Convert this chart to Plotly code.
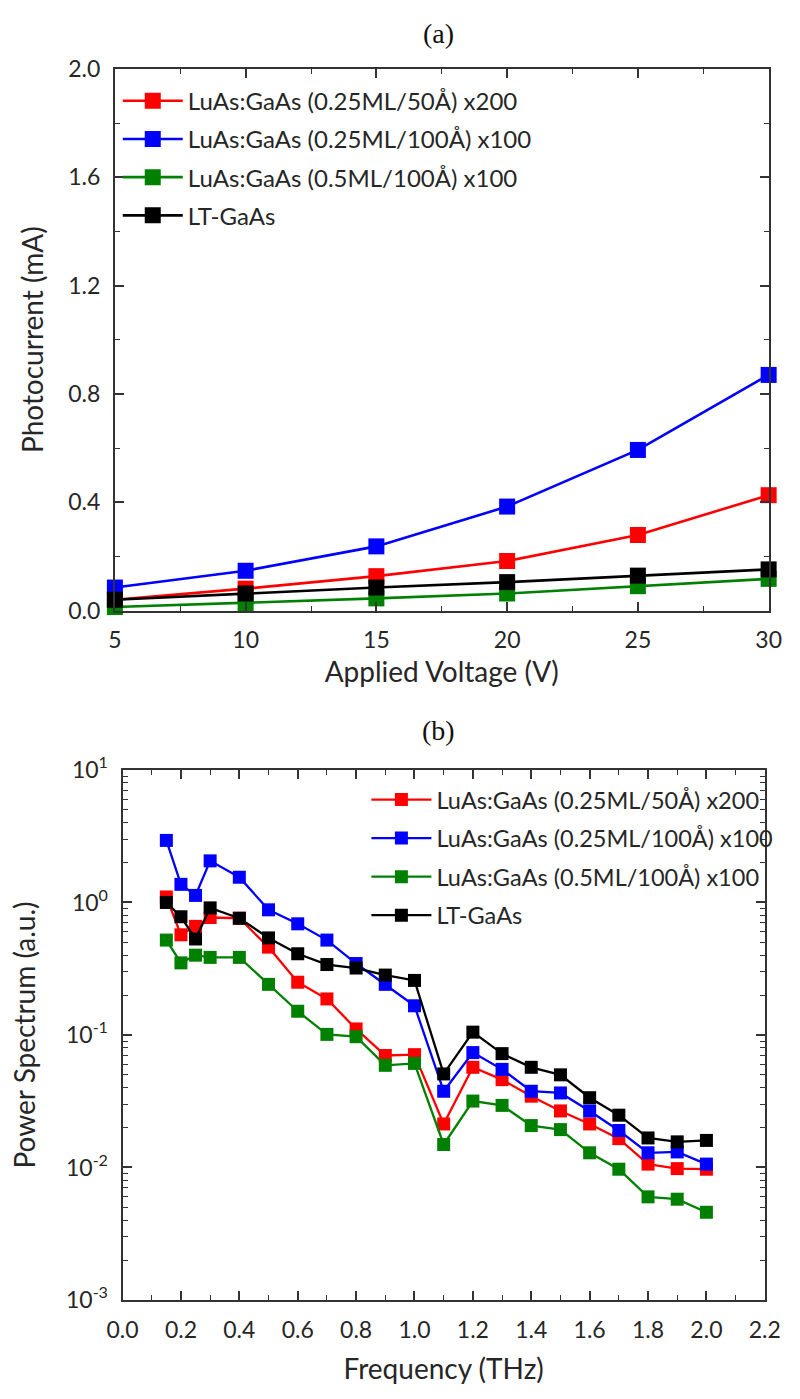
import plotly.graph_objects as go

# ---- Panel (a) data ----
voltage = [5, 10, 15, 20, 25, 30]
pc_red = [0.040, 0.081, 0.127, 0.183, 0.279, 0.426]
pc_blue = [0.085, 0.147, 0.237, 0.384, 0.593, 0.870]
pc_green = [0.013, 0.028, 0.045, 0.063, 0.090, 0.117]
pc_black = [0.040, 0.063, 0.085, 0.105, 0.129, 0.152]

# ---- Panel (b) data ----
freq = [0.15, 0.2, 0.25, 0.3, 0.4, 0.5, 0.6, 0.7, 0.8, 0.9, 1.0,
        1.1, 1.2, 1.3, 1.4, 1.5, 1.6, 1.7, 1.8, 1.9, 2.0]
ps_red = [1.10, 0.57, 0.66, 0.77, 0.76, 0.46, 0.25, 0.187, 0.111, 0.070, 0.071,
          0.0213, 0.057, 0.046, 0.0345, 0.0267, 0.0213, 0.0165, 0.0106, 0.0098, 0.0097]
ps_blue = [2.94, 1.37, 1.13, 2.06, 1.55, 0.88, 0.69, 0.52, 0.346, 0.241, 0.166,
           0.0376, 0.0736, 0.055, 0.0376, 0.0365, 0.0267, 0.019, 0.0129, 0.0131, 0.0106]
ps_green = [0.52, 0.35, 0.40, 0.385, 0.385, 0.241, 0.151, 0.101, 0.097, 0.059, 0.061,
            0.0149, 0.0317, 0.0294, 0.0207, 0.0193, 0.0129, 0.0097, 0.0060, 0.00576, 0.00459]
ps_black = [1.00, 0.78, 0.53, 0.91, 0.76, 0.54, 0.41, 0.34, 0.32, 0.283, 0.258,
            0.0508, 0.105, 0.0723, 0.057, 0.050, 0.0336, 0.0248, 0.0167, 0.0156, 0.0160]

# log-axis tick labels (powers of ten)
log_exponents = [-3, -2, -1, 0, 1]
log_tickvals = [10.0 ** e for e in log_exponents]
log_ticktext = ["10<sup>%d</sup>" % e for e in log_exponents]

names = ["LuAs:GaAs (0.25ML/50Å) x200", "LuAs:GaAs (0.25ML/100Å) x100",
         "LuAs:GaAs (0.5ML/100Å) x100", "LT-GaAs"]
colors = ["#ff0000", "#0000ff", "#008000", "#000000"]

W, H = 800, 1399
FONT = "Lato"
TXT = "#262626"
AX = "#333333"

fig = go.Figure()

for nm, col, ys in zip(names, colors, [pc_red, pc_blue, pc_green, pc_black]):
    fig.add_trace(go.Scatter(
        x=voltage, y=ys, name=nm, mode="lines+markers",
        line=dict(color=col, width=2.6),
        marker=dict(symbol="square", size=16, color=col),
        cliponaxis=False, xaxis="x", yaxis="y",
        legend="legend", legendgroup="a" + nm))

for nm, col, ys in zip(names, colors, [ps_red, ps_blue, ps_green, ps_black]):
    fig.add_trace(go.Scatter(
        x=freq, y=ys, name=nm, mode="lines+markers",
        line=dict(color=col, width=2.3),
        marker=dict(symbol="square", size=13, color=col),
        cliponaxis=False, xaxis="x2", yaxis="y2",
        legend="legend2", legendgroup="b" + nm))


def py(p):
    return 1 - p / H


axis_common = dict(
    showline=True, linecolor=AX, linewidth=2, mirror="ticks",
    ticks="inside", tickcolor=AX, tickwidth=1.6, ticklen=9,
    showgrid=False, zeroline=False,
    tickfont=dict(family=FONT, size=23, color=TXT),
)
minor_common = dict(ticks="inside", ticklen=5, tickcolor=AX, tickwidth=1.4)
title_font = dict(family=FONT, size=28, color=TXT)

fig.update_layout(
    width=W, height=H,
    margin=dict(l=0, r=0, t=0, b=0),
    paper_bgcolor="white", plot_bgcolor="white",
    font=dict(family=FONT, color=TXT),
    xaxis=dict(domain=[103 / W, 784 / W], range=[5, 30], dtick=5, tick0=5,
               minor=dict(dtick=2.5, **minor_common), ticklabelstandoff=8,
               title=dict(text="Applied Voltage (V)", font=title_font, standoff=10),
               anchor="y", **axis_common),
    yaxis=dict(domain=[py(606), py(52)], range=[0, 2.0], dtick=0.4, tick0=0,
               tickformat=".1f", ticklabelstandoff=8,
               minor=dict(dtick=0.2, **minor_common),
               title=dict(text="Photocurrent (mA)", font=title_font, standoff=16),
               anchor="x", **axis_common),
    xaxis2=dict(domain=[111 / W, 780 / W], range=[0, 2.2], dtick=0.2, tick0=0,
                tickformat=".1f", ticklabelstandoff=8,
                minor=dict(dtick=0.1, **minor_common),
                title=dict(text="Frequency (THz)", font=title_font, standoff=18),
                anchor="y2", **axis_common),
    yaxis2=dict(domain=[py(1311), py(769)], type="log", range=[-3, 1],
                tickmode="array", tickvals=log_tickvals, ticktext=log_ticktext,
                ticklabelstandoff=8,
                minor=dict(dtick="D1", **minor_common),
                title=dict(text="Power Spectrum (a.u.)", font=title_font, standoff=22),
                anchor="x2", **axis_common),
    legend=dict(x=106 / W, y=py(62), xanchor="left", yanchor="top",
                bgcolor="rgba(0,0,0,0)", font=dict(family=FONT, size=24, color=TXT),
                tracegroupgap=4, itemwidth=60),
    legend2=dict(x=365 / W, y=py(777), xanchor="left", yanchor="top",
                 bgcolor="rgba(0,0,0,0)", font=dict(family=FONT, size=23.5, color=TXT),
                 tracegroupgap=5, itemwidth=60),
    annotations=[
        dict(text="(a)", x=440 / W, y=py(16), xref="paper", yref="paper",
             xanchor="center", yanchor="middle",
             showarrow=False, font=dict(family="Liberation Serif", size=28, color="#111111")),
        dict(text="(b)", x=440 / W, y=py(729), xref="paper", yref="paper",
             xanchor="center", yanchor="middle",
             showarrow=False, font=dict(family="Liberation Serif", size=28, color="#111111")),
    ],
)

fig.write_html("out.html")
